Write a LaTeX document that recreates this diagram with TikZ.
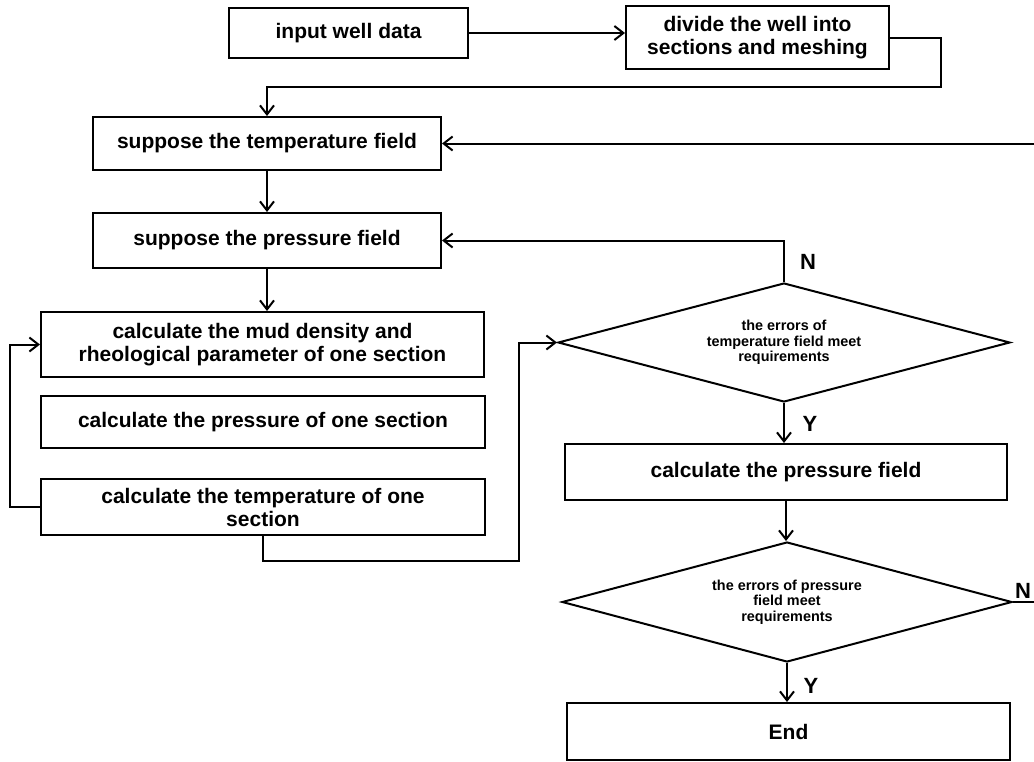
\documentclass[tikz,border=0pt]{standalone}
\usepackage{fontspec}
\setmainfont{Liberation Sans}
\usetikzlibrary{shapes, arrows.meta, positioning}

\begin{document}
\begin{tikzpicture}[x=0.5pt, y=-0.5pt, >={Straight Barb[length=4.5pt, width=7pt]}, line width=1pt,
		font=\bfseries\fontsize{10.5}{11.5}\selectfont,
		box/.style={draw, align=center, inner sep=2pt},
		decision/.style={draw, diamond, aspect=3.8, inner sep=0pt, align=center,
			font=\bfseries\fontsize{7.2}{7.8}\selectfont},
		yn/.style={font=\bfseries\fontsize{11}{12}\selectfont}]
			\useasboundingbox (0,0) rectangle (1034,761);
			\node[box, minimum width=119.5pt, minimum height=25pt] (input) at (348.5,33) {input well data};
			\node[box, minimum width=131.5pt, minimum height=31.5pt] (divide) at (757.5,37.5)
			{divide the well into\\sections and meshing};
			\node[box, minimum width=174pt, minimum height=26.5pt] (suptemp) at (267,143.5)
			{suppose the temperature field};
			\node[box, minimum width=174pt, minimum height=27.5pt] (suppres) at (267,240.5)
			{suppose the pressure field};
			\node[box, minimum width=221.5pt, minimum height=32.5pt] (mud) at (262.5,344.5)
			{calculate the mud density and\\rheological parameter of one section};
			\node[box, minimum width=222pt, minimum height=26pt] (secpres) at (263,422)
			{calculate the pressure of one section};
			\node[box, minimum width=222pt, minimum height=28pt] (sectemp) at (263,507)
			{calculate the temperature of one\\section};
			\node[decision, minimum width=226pt, minimum height=59.5pt] (errtemp) at (784,342.5)
			{the errors of\\temperature field meet\\requirements};
			\node[box, minimum width=221pt, minimum height=28pt] (calcpres) at (786,472)
			{calculate the pressure field};
			\node[decision, minimum width=225pt, minimum height=60pt] (errpres) at (787,602)
			{the errors of pressure\\field meet\\requirements};
			\node[box, minimum width=221.5pt, minimum height=28.5pt] (finish) at (788.5,731.5) {End};
			\coordinate (c1) at (941,87);
			\coordinate (c2) at (519,561);
			\coordinate (r1) at (1034,143.5);
			\coordinate (r2) at (1034,602);
			\draw[->] (input.east) -- (input.east -| divide.west);
			\draw[->] (divide.east) -| (c1) -| (suptemp.north);
			\draw[->] (suptemp) -- (suppres);
			\draw[->] (suppres.south) -- (suppres.south |- mud.north);
			\draw[->] (sectemp.west) -- ++(-30,0) |- (mud.west);
			\draw[->] (sectemp.south) |- (c2) |- (errtemp.west);
			\draw[->] (errtemp.north) |- (suppres.east);
			\draw[->] (errtemp.south) -- (errtemp.south |- calcpres.north);
			\draw[->] (calcpres.south) -- (calcpres.south |- errpres.north);
			\draw[->] (errpres.south) -- (errpres.south |- finish.north);
			\draw (errpres.east) -- (r2);
			\draw[->] (r1) -- (suptemp.east);
			\node[yn] (n1) at (808,262) {N};
			\node[yn] (y1) at (810,424) {Y};
			\node[yn] (y2) at (811,686) {Y};
			\node[yn, anchor=east, inner sep=1pt] (n2) at (1034,591) {N};
		\end{tikzpicture}
\end{document}
